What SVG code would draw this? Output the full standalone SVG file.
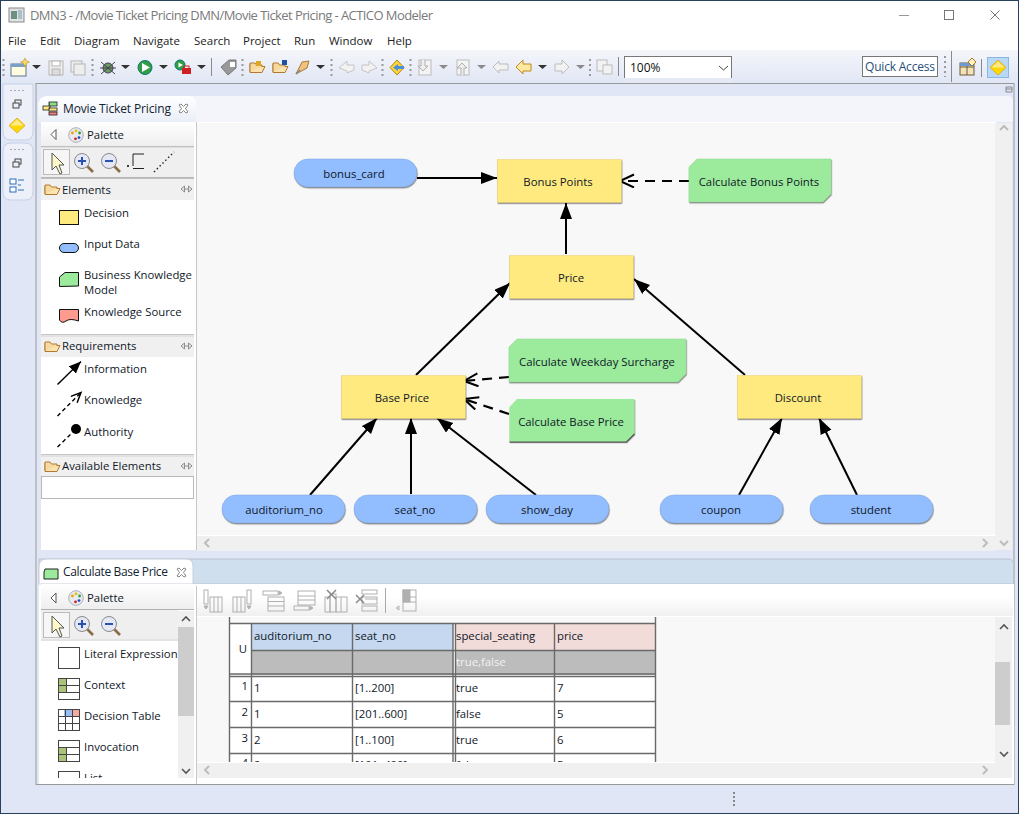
<svg xmlns="http://www.w3.org/2000/svg" xmlns:xlink="http://www.w3.org/1999/xlink" width="1019" height="814" viewBox="0 0 1019 814">
<style>
text{font-family:"Open Sans","Noto Sans","Liberation Sans",sans-serif;font-size:11.35px;fill:#101828}
.m{text-anchor:middle}
.t{fill:#7a7a7a;font-size:13px}
.menu{fill:#222;font-size:11.5px}
.dec{fill:#ffea7f;stroke:#e6d070;stroke-width:.5}
.inp{fill:#92bdff;stroke:#7fa6e0;stroke-width:.5}
.bkm{fill:#9ceb9c;stroke:#8cd58c;stroke-width:.5}
.grip{fill:none;stroke:#9a9a9a;stroke-width:2;stroke-dasharray:2 3}
.sep{stroke:#8a8a8a;stroke-width:1}
.dd{fill:#333}
.ddg{fill:#8a8a8a}
.gridl{stroke:#6a6a6a;stroke-width:1.4;fill:none}
.c{fill:none;stroke:#000;stroke-width:2}
.d{fill:none;stroke:#000;stroke-width:2.2;stroke-dasharray:10 7}
.gi{fill:none;stroke:#b0b0b0;stroke-width:1}
.pi{fill:#fff;stroke:#444;stroke-width:1}
.scr{fill:#f0f0f0}
.thumb{fill:#cdcdcd}
.chev{fill:none;stroke:#555;stroke-width:1.6}
.chevg{fill:none;stroke:#bdbdbd;stroke-width:2}
</style>
<defs>
<linearGradient id="tb" x1="0" y1="0" x2="0" y2="1"><stop offset="0" stop-color="#f5f6fb"/><stop offset="1" stop-color="#e0e6f4"/></linearGradient>
<linearGradient id="tab" x1="0" y1="0" x2="0" y2="1"><stop offset="0" stop-color="#ffffff"/><stop offset="1" stop-color="#e9eef7"/></linearGradient>
<linearGradient id="tbar" x1="0" y1="0" x2="0" y2="1"><stop offset="0" stop-color="#ffffff"/><stop offset=".4" stop-color="#ffffff"/><stop offset="1" stop-color="#f0f0f0"/></linearGradient>
<linearGradient id="pal" x1="0" y1="0" x2="0" y2="1"><stop offset="0" stop-color="#ffffff"/><stop offset="1" stop-color="#eeeeee"/></linearGradient>
<filter id="sh" x="-5%" y="-10%" width="110%" height="125%" color-interpolation-filters="sRGB"><feDropShadow dx="0.5" dy="1.2" stdDeviation="0.7" flood-color="#000" flood-opacity=".45"/></filter>
<marker id="fa" markerUnits="userSpaceOnUse" markerWidth="18" markerHeight="14" refX="16" refY="6" orient="auto"><path d="M0 0L16 6L0 12Z" fill="#000"/></marker>
<marker id="oa" markerUnits="userSpaceOnUse" markerWidth="18" markerHeight="16" refX="15" refY="7" orient="auto"><path d="M1 0.5L15 7L1 13.5" fill="none" stroke="#000" stroke-width="2"/></marker>
<marker id="paf" markerUnits="userSpaceOnUse" markerWidth="14" markerHeight="12" refX="12" refY="5" orient="auto"><path d="M0 0L12 5L0 10Z" fill="#000"/></marker>
<marker id="pao" markerUnits="userSpaceOnUse" markerWidth="14" markerHeight="12" refX="11" refY="5" orient="auto"><path d="M1 0.5L11 5L1 9.5" fill="none" stroke="#000" stroke-width="1.5"/></marker>
<clipPath id="tc"><rect x="197" y="617" width="798" height="145"/></clipPath>
<clipPath id="pc"><rect x="41" y="640" width="137" height="138"/></clipPath>
<g id="folder"><path d="M1 4L1 12.5H13L16 6.5H5L3 9" fill="#fbe3b0" stroke="#b07a30"/><path d="M1 12V3H6L7.5 5H13V6.5" fill="#f5d9a0" stroke="#b07a30"/></g>
<g id="mag"><path d="M12.500 12.500L19 19" stroke="#8a6d46" stroke-width="2.600"/><circle cx="8" cy="8" r="7.500" fill="#e4e8f4" stroke="#8a8a8a"/></g>
<g id="x"><path d="M0 1L2 0L4.500 2.500L7 0L9 1L6.500 4.500L9 8L7 9L4.500 6.500L2 9L0 8L2.500 4.500Z" fill="#fff" stroke="#777" stroke-width=".9"/></g>
<g id="coll"><path d="M0 3L3.5 0V6ZM11 3L7.5 0V6Z" fill="#e4e4e4" stroke="#777" stroke-width=".8"/><path d="M4 3H7" stroke="#777" stroke-width=".8"/></g>
<g id="palette"><circle cx="0" cy="0" r="7.3" fill="#e8eaf0" stroke="#a9b0c0"/><circle cx="-3.6" cy="-2" r="1.4" fill="#f0a000"/><circle cx="0" cy="-4.2" r="1.4" fill="#e0c000"/><circle cx="3.6" cy="-2" r="1.4" fill="#30a030"/><circle cx="3" cy="2.6" r="1.4" fill="#2050c0"/><circle cx="-0.5" cy="3.8" r="1.4" fill="#d02020"/></g>
<g id="diamond"><path d="M8 0L16 7.5L8 15L0 7.5Z" fill="#ffd700" stroke="#d9a520" stroke-width=".8"/><path d="M8 1.5L14.5 7.5H1.5Z" fill="#ffe98a"/></g>
</defs>

<!-- window frame -->
<rect x="0" y="0" width="1019" height="814" fill="#e0e6f5"/>
<rect x="0" y="0" width="1019" height="51" fill="#fff"/>
<rect x="0" y="50" width="1019" height="33" fill="url(#tb)"/>
<rect x="0.5" y="0.5" width="1018" height="813" fill="none" stroke="#26405e"/>

<!-- title bar -->
<rect x="9" y="8" width="15" height="14" fill="#dfe3e3" stroke="#8a8a8a"/><rect x="11" y="11" width="6" height="8" fill="#6f8f80"/><rect x="18" y="10" width="4" height="9" fill="#a9bfc9"/>
<text x="30" y="20" class="t" textLength="403">DMN3 - /Movie Ticket Pricing DMN/Movie Ticket Pricing - ACTICO Modeler</text>
<path d="M899 15.5H909" stroke="#999" stroke-width="1"/>
<rect x="944.5" y="10.5" width="9" height="9" fill="none" stroke="#777"/>
<path d="M990.5 10.5L999.5 19.5M999.5 10.5L990.5 19.5" stroke="#777" stroke-width="1"/>

<!-- menu -->
<g>
<text class="menu" x="8" y="45">File</text><text class="menu" x="40" y="45">Edit</text><text class="menu" x="74" y="45">Diagram</text><text class="menu" x="133" y="45">Navigate</text><text class="menu" x="194" y="45">Search</text><text class="menu" x="243" y="45">Project</text><text class="menu" x="294" y="45">Run</text><text class="menu" x="329" y="45">Window</text><text class="menu" x="387" y="45">Help</text>
</g>

<!-- toolbar -->
<g>
<path class="grip" d="M3.5 59V77"/><path class="grip" d="M92.5 59V77"/><path class="grip" d="M242.5 59V77"/><path class="grip" d="M331.5 59V77"/><path class="grip" d="M382.5 59V77"/><path class="grip" d="M410.5 59V77"/><path class="grip" d="M590 59V77"/><path class="grip" d="M945 56V77"/>
<path class="sep" d="M211.5 58V76M618.5 57V76M981.5 59V77M951.5 51V82"/>
<rect x="11" y="64" width="15" height="12" fill="#fffce0" stroke="#5b7690"/><rect x="11" y="64" width="15" height="3" fill="#7aa0c8"/><path d="M25 58L26.5 61L29.5 62L26.5 63.500L25 67L23.5 63.500L20.500 62L23.5 61Z" fill="#f8d868" stroke="#c09020" stroke-width=".6"/>
<path class="dd" d="M32 65H41L36.500 69Z"/>
<rect x="49" y="61" width="14" height="14" fill="#eee" stroke="#b5b5b5"/><rect x="52" y="61" width="8" height="5" fill="#fff" stroke="#b5b5b5"/><rect x="52" y="69" width="8" height="6" fill="#ddd" stroke="#b5b5b5"/>
<rect x="71" y="61" width="11" height="11" fill="#eee" stroke="#b5b5b5"/><rect x="74" y="64" width="11" height="11" fill="#eee" stroke="#b5b5b5"/>
<circle cx="108" cy="68" r="5" fill="#6a9a60" stroke="#445"/><path d="M101 62L115 74M115 62L101 74M100 68H116" stroke="#445" stroke-width="1"/>
<path class="dd" d="M121 65H130L125.500 69Z"/>
<circle cx="145" cy="67.500" r="7" fill="#2f9e44" stroke="#177"/><path d="M142 63L150 67.500L142 72Z" fill="#fff"/>
<path class="dd" d="M159 65H168L163.500 69Z"/>
<circle cx="180" cy="65" r="5" fill="#2f9e44" stroke="#177"/><path d="M178.500 62.500L183 65L178.500 67.500Z" fill="#fff"/><rect x="182" y="68" width="9" height="6" fill="#d02020"/><rect x="184" y="66" width="5" height="3" fill="none" stroke="#d02020"/>
<path class="dd" d="M197 65H206L201.500 69Z"/>
<path d="M221 67L229 60H236V68L228 75Z" fill="#999" stroke="#777"/><path d="M230 62H235V67H230Z" fill="#fff"/>
<use href="#folder" x="249" y="60"/><rect x="256" y="61" width="5" height="5" fill="#e0a820"/>
<use href="#folder" x="272" y="60"/><rect x="282" y="60" width="5" height="5" fill="#2050a0"/>
<path d="M296 74L302 62L309 61L307 68Z" fill="#f1c27d" stroke="#a87a3a"/><path d="M296 74L300 70" stroke="#888" stroke-width="1.500"/>
<path class="dd" d="M316 65H325L320.500 69Z"/>
<path d="M339 68L347 61V65H354V70L347 73V71Z" fill="#f2f2f2" stroke="#c4c4c4"/>
<path d="M377 68L369 61V65H362V70L369 73V71Z" fill="#f2f2f2" stroke="#c4c4c4"/>
<path d="M390 67.500L397 60L404 67.500L397 75Z" fill="#ffd23f" stroke="#b08a10"/><path d="M393 67.500L398 64V66H404V69H398V71Z" fill="#4a90d9"/>
<rect x="419" y="60" width="12" height="15" fill="#f4f4f4" stroke="#bbb"/><path d="M421 60V66H418L423 71L428 66H425V60" fill="#eee" stroke="#b0b0b0"/>
<path class="ddg" d="M439 65H448L443.500 69Z"/>
<rect x="457" y="60" width="12" height="15" fill="#f4f4f4" stroke="#bbb"/><path d="M461 75V68H457L462 63L467 68H464V75" fill="#eee" stroke="#b0b0b0"/>
<path class="ddg" d="M477 65H486L481.500 69Z"/>
<path d="M493 67L499 61V64H508V70H499V73Z" fill="#f2f2f2" stroke="#bdbdbd"/>
<path d="M516 67L523 60V64H531V71H523V74Z" fill="#fde9a0" stroke="#c08a20"/>
<path class="dd" d="M538 65H547L542.500 69Z"/>
<path d="M569 67L562 60V64H555V71H562V74Z" fill="#f2f2f2" stroke="#bdbdbd"/>
<path class="ddg" d="M576 65H585L580.500 69Z"/>
<rect x="597" y="60" width="10" height="11" fill="#f2f2f2" stroke="#bbb"/><rect x="603" y="65" width="9" height="9" fill="#f2f2f2" stroke="#bbb"/>
<rect x="624.500" y="56.500" width="107" height="24" fill="#fff" stroke="#777"/><rect x="624" y="78" width="108" height="5" fill="#e5e9f5"/>
<text x="630" y="72" style="font-size:12px;fill:#111">100%</text>
<path d="M719 66L723.500 70L728 66" fill="none" stroke="#444" stroke-width="1"/>
<rect x="862.500" y="56.500" width="75" height="20" fill="#fff" stroke="#777"/>
<text x="865" y="71" style="fill:#26507a;font-size:12px" textLength="70">Quick Access</text>
<rect x="960" y="63" width="14" height="12" fill="#f6e2b8" stroke="#6a5a3a"/><path d="M960 67H974M967 63V75" stroke="#6a5a3a"/><rect x="960" y="63" width="14" height="3" fill="#6a9ad0"/><path d="M972 58L976 62L972 66L968 62Z" fill="#fff3c0" stroke="#a87a20"/>
<rect x="987.500" y="57.500" width="21" height="20" fill="#b8d8f5" stroke="#8ab8e6"/><use href="#diamond" x="990" y="60"/>
</g>

<!-- left trim -->
<g>
<path d="M3 84H33V132Q33 140 25 140H11Q3 140 3 132Z" fill="#edf0f8" stroke="#c5d0e4"/>
<path d="M3 151Q3 143 11 143H25Q33 143 33 151V192Q33 200 25 200H11Q3 200 3 192Z" fill="#edf0f8" stroke="#c5d0e4"/>
<path d="M10 90.500H26M10 149.500H26" stroke="#aaa" stroke-dasharray="2 2"/>
<rect x="15" y="100" width="6" height="5" fill="none" stroke="#444"/><rect x="13" y="103" width="6" height="5" fill="#edf0f8" stroke="#444"/>
<rect x="15" y="159" width="6" height="5" fill="none" stroke="#444"/><rect x="13" y="162" width="6" height="5" fill="#edf0f8" stroke="#444"/>
<use href="#diamond" x="9" y="118"/>
<rect x="10" y="179" width="6" height="5" fill="#fff" stroke="#2a6fc0"/><rect x="10" y="187" width="6" height="5" fill="#fff" stroke="#2a6fc0"/><path d="M18 180H24M18 185H21M18 190H24" stroke="#2a6fc0"/>
</g>

<!-- top editor pane -->
<rect x="36" y="83.500" width="978" height="701" fill="none" stroke="#9a9a9a"/>
<path d="M1006 87H1012V92H1006ZM1006 89H1012" fill="none" stroke="#888"/>
<path d="M38 122V108Q38 96 50 96H1008Q1013 96 1013 102V122Z" fill="#f3f5fb"/>
<path d="M38 122V106Q38 96 48 96H188Q196 96 196 104V122Z" fill="url(#tab)"/>
<rect x="49" y="102" width="8" height="4" fill="#88e088" stroke="#222" stroke-width=".8"/><rect x="43" y="106" width="7" height="4" fill="#ffe97f" stroke="#222" stroke-width=".8"/><rect x="49" y="108" width="8" height="3" fill="#ffe97f" stroke="#222" stroke-width=".8"/><rect x="49" y="112" width="8" height="3" fill="#f08080" stroke="#222" stroke-width=".8"/><path d="M50 108H49M50 104H49" stroke="#222"/>
<text x="63" y="113" style="fill:#123;font-size:12px" textLength="108">Movie Ticket Pricing</text>
<use href="#x" x="179" y="104"/>
<rect x="41" y="122" width="955" height="428" fill="#fff"/>
<path d="M196.500 122V550" stroke="#c8c8c8"/>

<!-- top palette -->
<g>
<rect x="41" y="122" width="153" height="24" fill="url(#pal)"/>
<path d="M41 146.500H194M41 148H194" stroke="#b0b0b0" stroke-width=".8"/>
<path d="M56 129.500L51 134.500L56 139.500Z" fill="#fff" stroke="#555"/>
<use href="#palette" x="76" y="135"/>
<text x="87" y="139">Palette</text>
<rect x="41" y="148" width="153" height="29" fill="#efefef"/>
<path d="M41 177.500H194" stroke="#b8b8b8"/>
<rect x="43.500" y="149.500" width="26" height="25" fill="#f6f6f6" stroke="#bbb"/>
<path d="M52 153V170L56 166L60 174L62 173L59 165L64 165Z" fill="#fff8c8" stroke="#555"/>
<use href="#mag" x="74" y="153"/><path d="M78 161H86M82 157V165" stroke="#2a50b0" stroke-width="2"/>
<use href="#mag" x="101" y="153"/><path d="M105 161H113" stroke="#2a50b0" stroke-width="2"/>
<path d="M127 166H129M133 166V154H144M133 168.500H144" fill="none" stroke="#222"/><circle cx="128" cy="166" r="1" fill="#222"/>
<path d="M154 172L174 152" stroke="#222" stroke-width="1.400" stroke-dasharray="1.500 2.500"/>
<rect x="41" y="179" width="153" height="21" fill="#f0f0f0"/><path d="M41 178.500H194" stroke="#c0c0c0"/>
<use href="#folder" x="44" y="182"/><text x="62" y="194">Elements</text><use href="#coll" x="181" y="186"/>
<rect x="59.500" y="210.500" width="19" height="14" class="dec" style="stroke:#111;stroke-width:1"/><text x="84" y="217">Decision</text>
<rect x="59.500" y="243.500" width="19" height="9" rx="4.500" class="inp" style="stroke:#111;stroke-width:1"/><text x="84" y="248">Input Data</text>
<path d="M59.500 277L65 272.500H78.500V286L59.500 286.500Z" class="bkm" style="stroke:#111;stroke-width:1"/><text x="84" y="279">Business Knowledge</text><text x="84" y="294">Model</text>
<path d="M59.500 309.500H78.500V321Q70 318 66 321T59.500 320Z" fill="#ff9a8e" stroke="#111"/><text x="84" y="316">Knowledge Source</text>
<path d="M41 334.500H194M41 336H194" stroke="#b8b8b8" stroke-width=".8"/>
<rect x="41" y="337" width="153" height="20" fill="#f0f0f0"/>
<use href="#folder" x="44" y="339"/><text x="62" y="350">Requirements</text><use href="#coll" x="181" y="343"/>
<path d="M57.500 384.500L81 361.500" stroke="#000" stroke-width="1.400" marker-end="url(#paf)"/><text x="84" y="373">Information</text>
<path d="M57.500 416L81 392.500" stroke="#000" stroke-width="1.400" stroke-dasharray="4 3" marker-end="url(#pao)"/><text x="84" y="404">Knowledge</text>
<path d="M57.500 447L72 433" stroke="#000" stroke-width="1.400" stroke-dasharray="4 3"/><circle cx="76" cy="429" r="5" fill="#000"/><text x="84" y="436">Authority</text>
<path d="M41 454.500H194M41 456H194" stroke="#b8b8b8" stroke-width=".8"/>
<rect x="41" y="457" width="153" height="19" fill="#f0f0f0"/>
<use href="#folder" x="44" y="459"/><text x="62" y="470">Available Elements</text><use href="#coll" x="181" y="463"/>
<rect x="41.500" y="476.500" width="152" height="22" fill="#fff" stroke="#b8b8b8"/>
</g>

<!-- canvas -->
<rect x="197" y="123" width="798" height="412" fill="#f8f8f8"/>
<rect x="995" y="123" width="17" height="427" class="scr"/>
<rect x="197" y="536" width="798" height="15" class="scr"/>
<path class="chevg" d="M1000 130L1004 126L1008 130M1000 541L1004 545L1008 541"/>
<path class="chevg" d="M209 539L205 543L209 547M983 539L987 543L983 547"/>

<g id="connectors">
<path class="c" marker-end="url(#fa)" d="M417 178H497"/>
<path class="d" marker-end="url(#oa)" d="M689 181H620"/>
<path class="c" marker-end="url(#fa)" d="M566 254V203"/>
<path class="c" marker-end="url(#fa)" d="M416 375L510 283"/>
<path class="c" marker-end="url(#fa)" d="M745 375L634 279"/>
<path class="d" marker-end="url(#oa)" d="M509 377L464 381"/>
<path class="d" marker-end="url(#oa)" d="M509 414L464 399"/>
<path class="c" marker-end="url(#fa)" d="M310 495L377 418"/>
<path class="c" marker-end="url(#fa)" d="M411 494V418"/>
<path class="c" marker-end="url(#fa)" d="M536 495L437 418"/>
<path class="c" marker-end="url(#fa)" d="M739 495L782 418"/>
<path class="c" marker-end="url(#fa)" d="M857 495L819 418"/>
</g>

<g id="bonus_card"><rect x="294" y="159" width="123" height="28" rx="14" class="inp" filter="url(#sh)"/><text class="m" x="354" y="178">bonus_card</text></g>
<g id="bonus_points"><rect x="497.500" y="159.500" width="124" height="43" class="dec" filter="url(#sh)"/><text class="m" x="558" y="186">Bonus Points</text></g>
<g id="calculate_bonus_points"><path d="M697 159H831V194L823 202H689V167Z" class="bkm" filter="url(#sh)"/><text class="m" x="759" y="186">Calculate Bonus Points</text></g>
<g id="price"><rect x="509.500" y="255.500" width="124" height="43" class="dec" filter="url(#sh)"/><text class="m" x="571" y="282">Price</text></g>
<g id="calculate_weekday_surcharge"><path d="M517 339H686V374L678 382H509V347Z" class="bkm" filter="url(#sh)"/><text class="m" x="597" y="366">Calculate Weekday Surcharge</text></g>
<g id="base_price"><rect x="341.500" y="375.500" width="124" height="43" class="dec" filter="url(#sh)"/><text class="m" x="402" y="402">Base Price</text></g>
<g id="calculate_base_price"><path d="M517 399H634.500V434L626.500 442H509.500V407Z" fill="#9ceb9c" filter="url(#sh)"/><path d="M634.500 434L626.500 442H509.500" fill="none" stroke="#555" stroke-width="1.200"/><text class="m" x="571" y="426">Calculate Base Price</text></g>
<g id="discount"><rect x="737.500" y="375.500" width="124" height="43" class="dec" filter="url(#sh)"/><text class="m" x="798" y="402">Discount</text></g>
<g id="auditorium_no"><rect x="222" y="495" width="123" height="28" rx="14" class="inp" filter="url(#sh)"/><text class="m" x="284" y="514">auditorium_no</text></g>
<g id="seat_no"><rect x="354" y="495" width="123" height="28" rx="14" class="inp" filter="url(#sh)"/><text class="m" x="415" y="514">seat_no</text></g>
<g id="show_day"><rect x="486" y="495" width="123" height="28" rx="14" class="inp" filter="url(#sh)"/><text class="m" x="547" y="514">show_day</text></g>
<g id="coupon"><rect x="660" y="495" width="123" height="28" rx="14" class="inp" filter="url(#sh)"/><text class="m" x="721" y="514">coupon</text></g>
<g id="student"><rect x="810" y="495" width="123" height="28" rx="14" class="inp" filter="url(#sh)"/><text class="m" x="871" y="514">student</text></g>

<!-- bottom pane -->
<path d="M39 559H1008Q1013.500 559 1013.500 564V584H39Z" fill="#d0dfee" stroke="#bcc4d2"/>
<rect x="39" y="584" width="975" height="200" fill="#fff"/>
<path d="M39 584V567Q39 559 47 559H186Q193 559 193 566V584Z" fill="#fff" stroke="#c8d0dc"/>
<path d="M45 569H58V579H44V572Z" fill="#9ceb9c" stroke="#222"/>
<text x="63" y="576" style="fill:#123;font-size:12px" textLength="105">Calculate Base Price</text>
<use href="#x" x="177" y="568"/>
<rect x="197" y="584" width="816" height="32" fill="url(#tbar)"/>
<path d="M196.500 586V784" stroke="#c8c8c8"/>

<!-- bottom toolbar -->
<g>
<g class="gi">
<rect x="204" y="590" width="4" height="14"/><path d="M204 606H208L206 609Z" fill="#b0b0b0"/><rect x="210" y="597" width="12" height="15"/><path d="M214 597V612M218 597V612"/>
<rect x="233" y="597" width="12" height="15"/><path d="M237 597V612M241 597V612"/><rect x="247" y="590" width="4" height="14"/><path d="M247 606H251L249 609Z" fill="#b0b0b0"/>
<rect x="263" y="591" width="15" height="4"/><path d="M279 591V595L282 593Z" fill="#b0b0b0"/><rect x="268" y="597" width="16" height="14"/><path d="M268 601.500H284M268 606H284"/>
<rect x="298" y="591" width="17" height="14"/><path d="M298 596H315M298 600H315"/><rect x="294" y="606" width="15" height="4"/><path d="M310 606V610L313 608Z" fill="#b0b0b0"/>
<rect x="325" y="597" width="5" height="15"/><rect x="336" y="597" width="11" height="15"/><rect x="330" y="594" width="6" height="18"/><path d="M341 597V612"/>
<path d="M327 590L336 599M336 590L327 599" stroke="#888" stroke-width="1.500"/>
<rect x="362" y="590" width="15" height="4"/><rect x="362" y="597" width="15" height="7"/><rect x="362" y="606" width="15" height="5"/><path d="M356 595L364 603M364 595L356 603" stroke="#888" stroke-width="1.500"/><path d="M365 599H377" />
<rect x="403" y="590" width="13" height="21"/><rect x="403" y="590" width="7" height="12" fill="#b0b0b0"/><path d="M403 597H416M403 602H416M399 606V610L396 608Z"/>
</g>
<path d="M385.500 588V613" stroke="#a8a8a8"/>
</g>

<!-- bottom palette -->
<g>
<rect x="41" y="584" width="153" height="25" fill="url(#pal)"/>
<path d="M41 609.500H194" stroke="#b0b0b0"/>
<path d="M56 593L51 598L56 603Z" fill="#fff" stroke="#555"/>
<use href="#palette" x="76" y="598"/>
<text x="87" y="602">Palette</text>
<rect x="41" y="610" width="137" height="29" fill="#efefef"/>
<path d="M41 640H178" stroke="#c8c8c8"/>
<rect x="43.500" y="612.500" width="26" height="25" fill="#f6f6f6" stroke="#bbb"/>
<path d="M52 616V633L56 629L60 637L62 636L59 628L64 628Z" fill="#fff8c8" stroke="#555"/>
<use href="#mag" x="74" y="616"/><path d="M78 624H86M82 620V628" stroke="#2a50b0" stroke-width="2"/>
<use href="#mag" x="101" y="616"/><path d="M105 624H113" stroke="#2a50b0" stroke-width="2"/>
<rect x="178" y="611" width="16" height="167" class="scr"/>
<rect x="178" y="627" width="16" height="89" class="thumb"/>
<path class="chev" d="M182 621L186 617L190 621M182 769L186 773L190 769"/>
<g clip-path="url(#pc)">
<rect x="58.500" y="647.500" width="21" height="21" class="pi"/><text x="84" y="658">Literal Expression</text>
<rect x="58.500" y="678.500" width="21" height="21" class="pi"/><rect x="59" y="679" width="8" height="13" fill="#a9c47a"/><path d="M58.500 685.500H79.500M58.500 692.500H79.500M66.500 678.500V692.500" stroke="#444" fill="none"/><text x="84" y="689">Context</text>
<rect x="58.500" y="709.500" width="21" height="21" class="pi"/><rect x="64" y="710" width="8" height="7" fill="#9bbcf0"/><rect x="72" y="710" width="7" height="7" fill="#f5a8a0"/><path d="M58.500 716.500H79.500M58.500 723.500H79.500M65.500 709.500V730.500M72.500 709.500V730.500" stroke="#444" fill="none"/><text x="84" y="720">Decision Table</text>
<rect x="58.500" y="740.500" width="21" height="21" class="pi"/><rect x="59" y="754" width="8" height="7" fill="#a9c47a"/><rect x="59" y="747" width="8" height="7" fill="#a9c47a"/><path d="M58.500 747.500H79.500M58.500 754.500H79.500M66.500 747.500V761.500" stroke="#444" fill="none"/><text x="84" y="751">Invocation</text>
<rect x="58.500" y="771.500" width="21" height="21" class="pi"/><text x="84" y="782">List</text>
</g>
</g>

<!-- table -->
<rect x="197" y="617" width="798" height="145" fill="#f8f8f8"/>
<g clip-path="url(#tc)">
<rect x="230" y="623" width="425" height="139" fill="#fff"/>
<rect x="252" y="624" width="100" height="27" fill="#c5d8f0"/><rect x="353" y="624" width="100" height="27" fill="#c5d8f0"/>
<rect x="456" y="624" width="98" height="27" fill="#f2dcda"/><rect x="555" y="624" width="100" height="27" fill="#f2dcda"/>
<rect x="252" y="651" width="403" height="24" fill="#bcbcbc"/>
<rect x="453.500" y="623" width="2" height="139" fill="#fff"/>
<path class="gridl" d="M229.500 617V762M251.500 623V762M352.500 623V762M453 623V762M455.500 623V762M554.500 623V762M655.500 617V762"/>
<path class="gridl" d="M229.500 623.500H655.500M251.500 650.500H655.500M229.500 674H655.500M229.500 676.500H655.500M229.500 701.500H655.500M229.500 727.500H655.500M229.500 753.500H655.500"/>
<text class="m" x="243" y="653">U</text>
<text x="254" y="640">auditorium_no</text><text x="355" y="640">seat_no</text><text x="456" y="640">special_seating</text><text x="557" y="640">price</text>
<text x="456" y="666" style="fill:#f2f2f2">true,false</text>
<text x="248" y="690" style="text-anchor:end">1</text><text x="254" y="692">1</text><text x="355" y="692">[1..200]</text><text x="456" y="692">true</text><text x="557" y="692">7</text>
<text x="248" y="716" style="text-anchor:end">2</text><text x="254" y="718">1</text><text x="355" y="718">[201..600]</text><text x="456" y="718">false</text><text x="557" y="718">5</text>
<text x="248" y="742" style="text-anchor:end">3</text><text x="254" y="744">2</text><text x="355" y="744">[1..100]</text><text x="456" y="744">true</text><text x="557" y="744">6</text>
<text x="248" y="767" style="text-anchor:end">4</text><text x="254" y="769">2</text><text x="355" y="769">[101..400]</text><text x="456" y="769">false</text><text x="557" y="769">5</text>
</g>
<rect x="995" y="617" width="17" height="161" class="scr"/>
<rect x="995" y="662" width="15" height="63" class="thumb"/>
<path class="chev" d="M1000 629L1004 625L1008 629M1000 752L1004 756L1008 752"/>
<rect x="197" y="763" width="798" height="15" class="scr"/>
<path class="chevg" d="M209 766L205 770L209 774M983 766L987 770L983 774"/>

<!-- status bar -->
<path d="M734 792V806" stroke="#888" stroke-width="2" stroke-dasharray="2 2"/>
</svg>
